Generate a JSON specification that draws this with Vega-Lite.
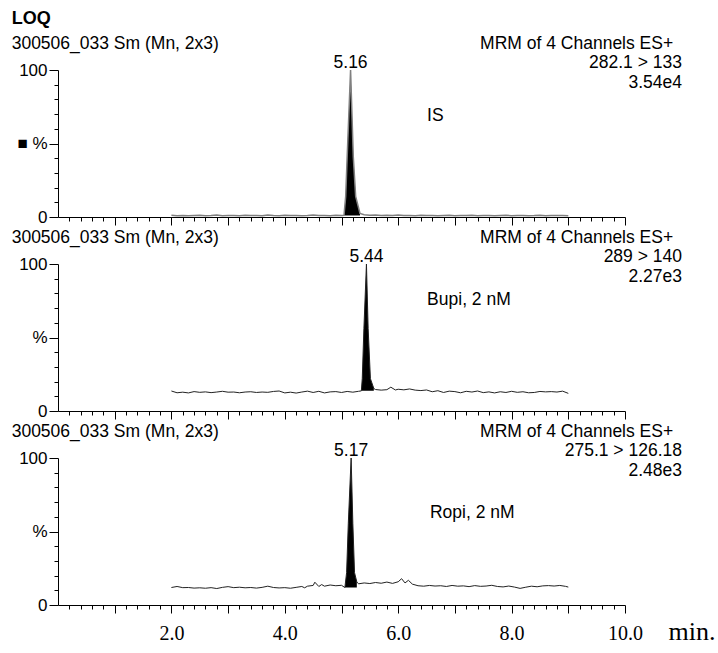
{
  "$schema": "https://vega.github.io/schema/vega-lite/v6.json",
  "background": "white",
  "padding": {"left": 11, "top": 9, "right": 0, "bottom": 0},
  "spacing": 47,
  "bounds": "flush",
  "config": {
    "view": {"stroke": null},
    "axis": {"domainColor": "black", "tickColor": "black", "labelColor": "black", "grid": false, "domainWidth": 1, "tickWidth": 1, "labelOverlap": false, "labelFlush": false},
    "text": {"font": "Liberation Sans", "fontSize": 17.5, "color": "black"}
  },
  "datasets": {
    "is": [
      {"t": 2.0, "v": 1.2}, {"t": 2.1, "v": 0.9}, {"t": 2.2, "v": 1.1}, {"t": 2.3, "v": 0.8}, {"t": 2.4, "v": 1.0}, {"t": 2.5, "v": 1.2}, {"t": 2.6, "v": 0.9}, {"t": 2.7, "v": 1.0}, {"t": 2.8, "v": 1.3}, {"t": 2.9, "v": 0.9},
      {"t": 3.0, "v": 1.1}, {"t": 3.1, "v": 1.0}, {"t": 3.2, "v": 0.8}, {"t": 3.3, "v": 1.2}, {"t": 3.4, "v": 1.0}, {"t": 3.5, "v": 1.1}, {"t": 3.6, "v": 0.9}, {"t": 3.7, "v": 1.3}, {"t": 3.8, "v": 1.0}, {"t": 3.9, "v": 0.9},
      {"t": 4.0, "v": 1.2}, {"t": 4.1, "v": 1.0}, {"t": 4.2, "v": 1.1}, {"t": 4.3, "v": 0.8}, {"t": 4.4, "v": 1.0}, {"t": 4.5, "v": 1.3}, {"t": 4.6, "v": 1.0}, {"t": 4.7, "v": 1.1}, {"t": 4.8, "v": 0.9}, {"t": 4.9, "v": 1.2},
      {"t": 5.0, "v": 1.0}, {"t": 5.044, "v": 1.1}, {"t": 5.074, "v": 14}, {"t": 5.1, "v": 41}, {"t": 5.16, "v": 100}, {"t": 5.208, "v": 41}, {"t": 5.25, "v": 14}, {"t": 5.326, "v": 2.4},
      {"t": 5.4, "v": 1.5}, {"t": 5.5, "v": 1.2}, {"t": 5.6, "v": 1.3}, {"t": 5.7, "v": 1.0}, {"t": 5.8, "v": 1.2}, {"t": 5.9, "v": 1.1},
      {"t": 6.0, "v": 1.3}, {"t": 6.1, "v": 1.0}, {"t": 6.2, "v": 1.1}, {"t": 6.3, "v": 0.9}, {"t": 6.4, "v": 1.2}, {"t": 6.5, "v": 1.0}, {"t": 6.6, "v": 1.1}, {"t": 6.7, "v": 0.8}, {"t": 6.8, "v": 1.0}, {"t": 6.9, "v": 1.2},
      {"t": 7.0, "v": 0.9}, {"t": 7.1, "v": 1.1}, {"t": 7.2, "v": 1.0}, {"t": 7.3, "v": 1.2}, {"t": 7.4, "v": 0.9}, {"t": 7.5, "v": 1.0}, {"t": 7.6, "v": 1.1}, {"t": 7.7, "v": 0.8}, {"t": 7.8, "v": 1.0}, {"t": 7.9, "v": 1.2},
      {"t": 8.0, "v": 0.9}, {"t": 8.1, "v": 1.0}, {"t": 8.2, "v": 1.1}, {"t": 8.3, "v": 0.9}, {"t": 8.4, "v": 1.0}, {"t": 8.5, "v": 1.2}, {"t": 8.6, "v": 0.9}, {"t": 8.7, "v": 1.1}, {"t": 8.8, "v": 1.0}, {"t": 8.9, "v": 1.1}, {"t": 9.0, "v": 0.9}
    ],
    "isPeak": [
      {"t": 5.044, "v": 1.1}, {"t": 5.074, "v": 14}, {"t": 5.1, "v": 41}, {"t": 5.16, "v": 100}, {"t": 5.208, "v": 41}, {"t": 5.25, "v": 14}, {"t": 5.326, "v": 2.4}
    ],
    "bupi": [
      {"t": 2.0, "v": 13.6}, {"t": 2.1, "v": 12.4}, {"t": 2.2, "v": 12.8}, {"t": 2.3, "v": 12.3}, {"t": 2.4, "v": 13.2}, {"t": 2.5, "v": 12.7}, {"t": 2.6, "v": 13.0}, {"t": 2.7, "v": 12.5}, {"t": 2.8, "v": 12.9}, {"t": 2.9, "v": 13.4},
      {"t": 3.0, "v": 12.8}, {"t": 3.1, "v": 12.9}, {"t": 3.2, "v": 12.4}, {"t": 3.3, "v": 12.9}, {"t": 3.4, "v": 13.1}, {"t": 3.5, "v": 12.6}, {"t": 3.6, "v": 12.9}, {"t": 3.7, "v": 12.7}, {"t": 3.8, "v": 13.3}, {"t": 3.9, "v": 13.6},
      {"t": 4.0, "v": 12.3}, {"t": 4.1, "v": 12.8}, {"t": 4.2, "v": 12.2}, {"t": 4.3, "v": 12.9}, {"t": 4.4, "v": 13.5}, {"t": 4.5, "v": 12.6}, {"t": 4.6, "v": 13.4}, {"t": 4.7, "v": 12.3}, {"t": 4.8, "v": 13.0}, {"t": 4.9, "v": 13.2},
      {"t": 5.0, "v": 12.6}, {"t": 5.1, "v": 13.3}, {"t": 5.2, "v": 12.8}, {"t": 5.3, "v": 13.4},
      {"t": 5.35, "v": 13.7}, {"t": 5.366, "v": 22}, {"t": 5.395, "v": 56}, {"t": 5.44, "v": 100}, {"t": 5.47, "v": 56}, {"t": 5.51, "v": 22}, {"t": 5.57, "v": 15.3},
      {"t": 5.6, "v": 14.6}, {"t": 5.7, "v": 14.2}, {"t": 5.8, "v": 14.5}, {"t": 5.87, "v": 16.2}, {"t": 5.95, "v": 14.3},
      {"t": 6.0, "v": 14.8}, {"t": 6.1, "v": 14.4}, {"t": 6.2, "v": 15.0}, {"t": 6.3, "v": 14.2}, {"t": 6.4, "v": 13.9}, {"t": 6.5, "v": 14.3}, {"t": 6.6, "v": 13.1}, {"t": 6.7, "v": 13.8}, {"t": 6.8, "v": 12.6}, {"t": 6.9, "v": 13.5},
      {"t": 7.0, "v": 13.2}, {"t": 7.1, "v": 12.4}, {"t": 7.2, "v": 13.4}, {"t": 7.3, "v": 12.9}, {"t": 7.4, "v": 13.6}, {"t": 7.5, "v": 12.5}, {"t": 7.6, "v": 13.0}, {"t": 7.7, "v": 12.3}, {"t": 7.8, "v": 13.1}, {"t": 7.9, "v": 12.6},
      {"t": 8.0, "v": 13.4}, {"t": 8.1, "v": 12.7}, {"t": 8.2, "v": 13.1}, {"t": 8.3, "v": 12.4}, {"t": 8.4, "v": 12.6}, {"t": 8.5, "v": 13.3}, {"t": 8.6, "v": 13.0}, {"t": 8.7, "v": 13.2}, {"t": 8.8, "v": 12.9}, {"t": 8.9, "v": 13.5}, {"t": 9.0, "v": 12.0}
    ],
    "bupiPeak": [
      {"t": 5.35, "v": 13.7}, {"t": 5.366, "v": 22}, {"t": 5.395, "v": 56}, {"t": 5.44, "v": 100}, {"t": 5.47, "v": 56}, {"t": 5.51, "v": 22}, {"t": 5.57, "v": 15.3}
    ],
    "ropi": [
      {"t": 2.0, "v": 11.9}, {"t": 2.1, "v": 12.6}, {"t": 2.2, "v": 11.8}, {"t": 2.3, "v": 11.9}, {"t": 2.4, "v": 11.5}, {"t": 2.5, "v": 11.7}, {"t": 2.6, "v": 11.4}, {"t": 2.7, "v": 11.8}, {"t": 2.8, "v": 11.2}, {"t": 2.9, "v": 12.0},
      {"t": 3.0, "v": 12.5}, {"t": 3.1, "v": 11.8}, {"t": 3.2, "v": 12.1}, {"t": 3.3, "v": 11.7}, {"t": 3.4, "v": 11.9}, {"t": 3.5, "v": 11.5}, {"t": 3.6, "v": 12.0}, {"t": 3.7, "v": 12.8}, {"t": 3.8, "v": 11.9}, {"t": 3.9, "v": 11.6},
      {"t": 4.0, "v": 11.8}, {"t": 4.1, "v": 11.4}, {"t": 4.2, "v": 12.0}, {"t": 4.3, "v": 12.6}, {"t": 4.35, "v": 11.7}, {"t": 4.4, "v": 12.8}, {"t": 4.5, "v": 13.3}, {"t": 4.53, "v": 15.5}, {"t": 4.6, "v": 12.6}, {"t": 4.65, "v": 13.9}, {"t": 4.7, "v": 12.8}, {"t": 4.8, "v": 13.6}, {"t": 4.9, "v": 13.1},
      {"t": 5.0, "v": 13.4},
      {"t": 5.06, "v": 11.9}, {"t": 5.09, "v": 22}, {"t": 5.12, "v": 55.6}, {"t": 5.17, "v": 100}, {"t": 5.2, "v": 55.6}, {"t": 5.23, "v": 22}, {"t": 5.27, "v": 15.7},
      {"t": 5.3, "v": 14.4}, {"t": 5.4, "v": 15.0}, {"t": 5.5, "v": 14.6}, {"t": 5.6, "v": 15.3}, {"t": 5.7, "v": 14.8}, {"t": 5.8, "v": 15.6}, {"t": 5.9, "v": 14.7},
      {"t": 6.0, "v": 15.8}, {"t": 6.06, "v": 17.9}, {"t": 6.12, "v": 15.0}, {"t": 6.18, "v": 16.8}, {"t": 6.25, "v": 14.2}, {"t": 6.35, "v": 13.1}, {"t": 6.45, "v": 12.8}, {"t": 6.55, "v": 13.3}, {"t": 6.65, "v": 12.9}, {"t": 6.75, "v": 13.1}, {"t": 6.85, "v": 12.6}, {"t": 6.95, "v": 13.3},
      {"t": 7.05, "v": 12.8}, {"t": 7.15, "v": 13.0}, {"t": 7.25, "v": 12.5}, {"t": 7.35, "v": 13.2}, {"t": 7.45, "v": 12.7}, {"t": 7.55, "v": 12.9}, {"t": 7.65, "v": 13.4}, {"t": 7.75, "v": 12.6}, {"t": 7.85, "v": 12.3}, {"t": 7.95, "v": 12.9},
      {"t": 8.05, "v": 12.2}, {"t": 8.15, "v": 11.3}, {"t": 8.25, "v": 12.1}, {"t": 8.35, "v": 12.8}, {"t": 8.45, "v": 12.4}, {"t": 8.55, "v": 13.0}, {"t": 8.65, "v": 13.2}, {"t": 8.75, "v": 12.9}, {"t": 8.85, "v": 13.3}, {"t": 8.95, "v": 12.7}, {"t": 9.0, "v": 12.2}
    ],
    "ropiPeak": [
      {"t": 5.06, "v": 11.9}, {"t": 5.09, "v": 22}, {"t": 5.12, "v": 55.6}, {"t": 5.17, "v": 100}, {"t": 5.2, "v": 55.6}, {"t": 5.23, "v": 22}, {"t": 5.27, "v": 15.7}
    ]
  },
  "vconcat": [
    {
      "width": 567, "height": 147,
      "encoding": {
        "x": {"field": "t", "type": "quantitative", "scale": {"domain": [0, 10], "nice": false, "zero": false},
          "axis": {"title": null, "labels": false,
            "values": [0.2,0.4,0.6,0.8,1,1.2,1.4,1.6,1.8,2,2.2,2.4,2.6,2.8,3,3.2,3.4,3.6,3.8,4,4.2,4.4,4.6,4.8,5,5.2,5.4,5.6,5.8,6,6.2,6.4,6.6,6.8,7,7.2,7.4,7.6,7.8,8,8.2,8.4,8.6,8.8,9,9.2,9.4,9.6,9.8,10],
            "tickSize": {"condition": {"test": "datum.value % 1 === 0", "value": 8}, "value": 4}}},
        "y": {"field": "v", "type": "quantitative", "scale": {"domain": [0, 100], "nice": false},
          "axis": {"title": null, "values": [0,10,20,30,40,50,60,70,80,90,100],
            "tickSize": {"condition": {"test": "datum.value % 50 === 0", "value": 9}, "value": 4},
            "labelExpr": "datum.value === 50 ? '■  %' : (datum.value % 100 === 0 ? datum.label : '')",
            "labelFont": "Liberation Sans", "labelFontSize": 17, "labelPadding": 2}}
      },
      "layer": [
        {"data": {"name": "isPeak"}, "mark": {"type": "area", "color": "black", "opacity": 1}, "encoding": {"y2": {"datum": 1}}},
        {"data": {"name": "is"}, "mark": {"type": "line", "color": "#808080", "strokeWidth": 1.5}, "encoding": {}},
        {"data": {"values": [{"t": -0.817, "v": 134.7, "s": "LOQ"}]},
         "mark": {"type": "text", "align": "left", "baseline": "middle", "fontWeight": "bold", "fontSize": 18},
         "encoding": {"text": {"field": "s"}}},
        {"data": {"values": [
          {"t": -0.817, "v": 118, "s": "300506_033 Sm (Mn, 2x3)"},
          {"t": 6.51, "v": 68.7, "s": "IS"}]},
         "mark": {"type": "text", "align": "left", "baseline": "middle"},
         "encoding": {"text": {"field": "s"}}},
        {"data": {"values": [
          {"t": 10.85, "v": 118, "s": "MRM of 4 Channels ES+"},
          {"t": 11.005, "v": 104.5, "s": "282.1 > 133"},
          {"t": 11.005, "v": 91.1, "s": "3.54e4"}]},
         "mark": {"type": "text", "align": "right", "baseline": "middle"},
         "encoding": {"text": {"field": "s"}}},
        {"data": {"values": [{"t": 5.16, "v": 100, "s": "5.16"}]},
         "mark": {"type": "text", "align": "center", "baseline": "alphabetic", "dy": -2},
         "encoding": {"text": {"field": "s"}}}
      ]
    },
    {
      "width": 567, "height": 147,
      "encoding": {
        "x": {"field": "t", "type": "quantitative", "scale": {"domain": [0, 10], "nice": false, "zero": false},
          "axis": {"title": null, "labels": false,
            "values": [0.2,0.4,0.6,0.8,1,1.2,1.4,1.6,1.8,2,2.2,2.4,2.6,2.8,3,3.2,3.4,3.6,3.8,4,4.2,4.4,4.6,4.8,5,5.2,5.4,5.6,5.8,6,6.2,6.4,6.6,6.8,7,7.2,7.4,7.6,7.8,8,8.2,8.4,8.6,8.8,9,9.2,9.4,9.6,9.8,10],
            "tickSize": {"condition": {"test": "datum.value % 1 === 0", "value": 8}, "value": 4}}},
        "y": {"field": "v", "type": "quantitative", "scale": {"domain": [0, 100], "nice": false},
          "axis": {"title": null, "values": [0,10,20,30,40,50,60,70,80,90,100],
            "tickSize": {"condition": {"test": "datum.value % 50 === 0", "value": 9}, "value": 4},
            "labelExpr": "datum.value === 50 ? '%' : (datum.value % 100 === 0 ? datum.label : '')",
            "labelFont": "Liberation Sans", "labelFontSize": 17, "labelPadding": 2}}
      },
      "layer": [
        {"data": {"name": "bupiPeak"}, "mark": {"type": "area", "color": "black", "opacity": 1}, "encoding": {"y2": {"datum": 13.7}}},
        {"data": {"name": "bupi"}, "mark": {"type": "line", "color": "#222222", "strokeWidth": 1}, "encoding": {}},
        {"data": {"values": [
          {"t": -0.817, "v": 118, "s": "300506_033 Sm (Mn, 2x3)"},
          {"t": 6.51, "v": 75.2, "s": "Bupi, 2 nM"}]},
         "mark": {"type": "text", "align": "left", "baseline": "middle"},
         "encoding": {"text": {"field": "s"}}},
        {"data": {"values": [
          {"t": 10.85, "v": 118, "s": "MRM of 4 Channels ES+"},
          {"t": 11.005, "v": 104.5, "s": "289 > 140"},
          {"t": 11.005, "v": 91.1, "s": "2.27e3"}]},
         "mark": {"type": "text", "align": "right", "baseline": "middle"},
         "encoding": {"text": {"field": "s"}}},
        {"data": {"values": [{"t": 5.44, "v": 100, "s": "5.44"}]},
         "mark": {"type": "text", "align": "center", "baseline": "alphabetic", "dy": -2},
         "encoding": {"text": {"field": "s"}}}
      ]
    },
    {
      "width": 567, "height": 147,
      "encoding": {
        "x": {"field": "t", "type": "quantitative", "scale": {"domain": [0, 10], "nice": false, "zero": false},
          "axis": {"title": "min.",
            "values": [0.2,0.4,0.6,0.8,1,1.2,1.4,1.6,1.8,2,2.2,2.4,2.6,2.8,3,3.2,3.4,3.6,3.8,4,4.2,4.4,4.6,4.8,5,5.2,5.4,5.6,5.8,6,6.2,6.4,6.6,6.8,7,7.2,7.4,7.6,7.8,8,8.2,8.4,8.6,8.8,9,9.2,9.4,9.6,9.8,10],
            "tickSize": {"condition": {"test": "datum.value % 1 === 0", "value": 8}, "value": 4},
            "labelExpr": "datum.value % 2 === 0 ? format(datum.value, '.1f') : ''",
            "labelFont": "Liberation Serif", "labelFontSize": 20, "labelBaseline": "alphabetic", "labelPadding": 26,
            "titleFont": "Liberation Serif", "titleFontSize": 26, "titleFontWeight": "normal", "titleColor": "black",
            "titleAlign": "left", "titleAnchor": "start", "titleBaseline": "alphabetic", "titleX": 610, "titleY": 34}},
        "y": {"field": "v", "type": "quantitative", "scale": {"domain": [0, 100], "nice": false},
          "axis": {"title": null, "values": [0,10,20,30,40,50,60,70,80,90,100],
            "tickSize": {"condition": {"test": "datum.value % 50 === 0", "value": 9}, "value": 4},
            "labelExpr": "datum.value === 50 ? '%' : (datum.value % 100 === 0 ? datum.label : '')",
            "labelFont": "Liberation Sans", "labelFontSize": 17, "labelPadding": 2}}
      },
      "layer": [
        {"data": {"name": "ropiPeak"}, "mark": {"type": "area", "color": "black", "opacity": 1}, "encoding": {"y2": {"datum": 11.9}}},
        {"data": {"name": "ropi"}, "mark": {"type": "line", "color": "#222222", "strokeWidth": 1}, "encoding": {}},
        {"data": {"values": [
          {"t": -0.817, "v": 118, "s": "300506_033 Sm (Mn, 2x3)"},
          {"t": 6.56, "v": 62.9, "s": "Ropi, 2 nM"}]},
         "mark": {"type": "text", "align": "left", "baseline": "middle"},
         "encoding": {"text": {"field": "s"}}},
        {"data": {"values": [
          {"t": 10.85, "v": 118, "s": "MRM of 4 Channels ES+"},
          {"t": 11.005, "v": 104.5, "s": "275.1 > 126.18"},
          {"t": 11.005, "v": 91.1, "s": "2.48e3"}]},
         "mark": {"type": "text", "align": "right", "baseline": "middle"},
         "encoding": {"text": {"field": "s"}}},
        {"data": {"values": [{"t": 5.17, "v": 100, "s": "5.17"}]},
         "mark": {"type": "text", "align": "center", "baseline": "alphabetic", "dy": -2},
         "encoding": {"text": {"field": "s"}}}
      ]
    }
  ]
}
